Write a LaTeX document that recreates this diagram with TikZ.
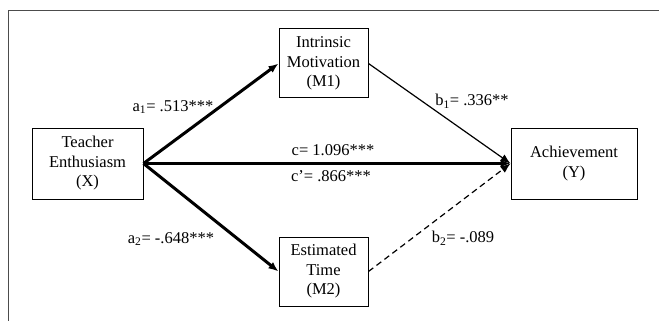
\documentclass[tikz,border=0pt]{standalone}
\usepackage{fontspec}
\setmainfont{Liberation Serif}
\usetikzlibrary{arrows.meta}

\begin{document}
\begin{tikzpicture}[x=1pt,y=-1pt,
    box/.style={draw, line width=1pt, align=center, inner sep=0pt,
        font=\fontsize{16.5}{19.5}\selectfont},
    lab/.style={inner sep=0pt, font=\fontsize{16.5}{19.5}\selectfont},
    path/.style={-{Latex[length=10pt,width=8pt]}}]
    \useasboundingbox (0,0) rectangle (659,321);
    % frame
    \draw[gray!60!black, line width=1pt] (8,321) -- (8,11) -- (659,11);
    % boxes
    \node[box, minimum width=111pt, minimum height=71pt] (X) at (87.5,163.5) {Teacher\\Enthusiasm\\(X)};
    \node[box, minimum width=89pt, minimum height=69pt] (M1) at (323.5,63.5) {Intrinsic\\Motivation\\(M1)};
    \node[box, minimum width=89pt, minimum height=69pt] (M2) at (323.5,271.5) {Estimated\\Time\\(M2)};
    \node[box, minimum width=126pt, minimum height=71pt] (Y) at (574,163.5) {Achievement\\(Y)};
    % paths
    \draw[path, line width=3pt] (X.east) -- (M1.west);
    \draw[path, line width=3pt] (X.east) -- (M2.west);
    \draw[path, line width=3pt] (X.east) -- (Y.west);
    \draw[path, line width=1.2pt] (M1.east) -- (Y.west);
    \draw[path, line width=1.2pt, dash pattern=on 6pt off 4pt] (M2.east) -- (Y.west);
    % coefficients
    \node[lab] (a1) at (173,107) {a\textsubscript{1}= .513***};
    \node[lab] (b1) at (472,101) {b\textsubscript{1}= .336**};
    \node[lab] (c) at (333,150) {c= 1.096***};
    \node[lab] (cp) at (331,176) {c’= .866***};
    \node[lab] (a2) at (171,239) {a\textsubscript{2}= -.648***};
    \node[lab] (b2) at (463,238) {b\textsubscript{2}= -.089};
\end{tikzpicture}
\end{document}
